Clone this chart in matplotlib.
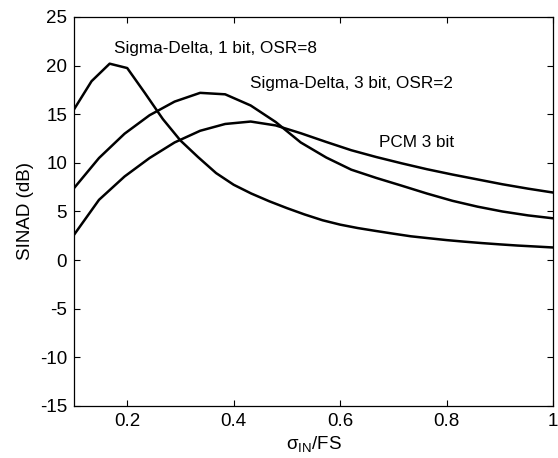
import matplotlib
matplotlib.use('Agg')
import matplotlib.pyplot as plt

plt.rcParams['font.family'] = ['Liberation Sans', 'DejaVu Sans']
plt.rcParams['mathtext.fontset'] = 'custom'
plt.rcParams['mathtext.rm'] = 'Liberation Sans'
plt.rcParams['mathtext.it'] = 'Liberation Sans:italic'
plt.rcParams['axes.unicode_minus'] = False

# Sigma-Delta, 1 bit, OSR=8
x_sd1 = [0.100, 0.133, 0.167, 0.200, 0.233, 0.267, 0.300, 0.333, 0.367, 0.400,
         0.433, 0.467, 0.500, 0.533, 0.567, 0.600, 0.633, 0.667, 0.700, 0.733,
         0.767, 0.800, 0.833, 0.867, 0.900, 0.933, 0.967, 1.000]
y_sd1 = [15.5, 18.4, 20.2, 19.75, 17.2, 14.5, 12.3, 10.6, 8.95, 7.75,
         6.85, 6.05, 5.35, 4.7, 4.1, 3.65, 3.3, 3.0, 2.72, 2.45,
         2.25, 2.06, 1.9, 1.75, 1.62, 1.5, 1.4, 1.3]

# Sigma-Delta, 3 bit, OSR=2 and PCM 3 bit
x_20 = [0.100, 0.147, 0.195, 0.242, 0.289, 0.337, 0.384, 0.432, 0.479, 0.526,
        0.574, 0.621, 0.668, 0.716, 0.763, 0.811, 0.858, 0.905, 0.953, 1.000]
y_sd3 = [7.4, 10.5, 13.0, 14.9, 16.3, 17.2, 17.05, 15.9, 14.2, 12.1,
         10.55, 9.3, 8.45, 7.65, 6.85, 6.1, 5.5, 5.0, 4.6, 4.3]
y_pcm = [2.6, 6.2, 8.6, 10.5, 12.1, 13.3, 14.0, 14.25, 13.85, 13.05,
         12.15, 11.3, 10.6, 9.95, 9.35, 8.8, 8.3, 7.8, 7.35, 6.95]

xticks = [0.2, 0.4, 0.6, 0.8, 1.0]
xticklabels = ['0.2', '0.4', '0.6', '0.8', '1']
yticks = [-15, -10, -5, 0, 5, 10, 15, 20, 25]

fig = plt.figure(figsize=(5.58, 4.58), dpi=100)
ax = fig.add_axes([74 / 558, 1 - 406 / 458, 479 / 558, 389 / 458])

ax.plot(x_sd1, y_sd1, color='black', lw=1.8)
ax.plot(x_20, y_sd3, color='black', lw=1.8)
ax.plot(x_20, y_pcm, color='black', lw=1.8)

ax.text(0.176, 21.8, 'Sigma-Delta, 1 bit, OSR=8', fontsize=12.3, va='center')
ax.text(0.43, 18.2, 'Sigma-Delta, 3 bit, OSR=2', fontsize=12.3, va='center')
ax.text(0.674, 12.06, 'PCM 3 bit', fontsize=12.3, va='center')

ax.set_xlim(0.1, 1.0)
ax.set_ylim(-15, 25)
ax.set_xticks(xticks)
ax.set_xticklabels(xticklabels)
ax.set_yticks(yticks)
ax.tick_params(direction='in', top=True, right=True, length=4, width=0.8,
               labelsize=13.5, pad=5)
for s in ax.spines.values():
    s.set_linewidth(0.9)

ax.set_xlabel('σ$_{\\mathrm{IN}}$/FS', fontsize=13.5, labelpad=3)
ax.set_ylabel('SINAD (dB)', fontsize=13.5, labelpad=4)

fig.savefig('out.png', dpi=100)
